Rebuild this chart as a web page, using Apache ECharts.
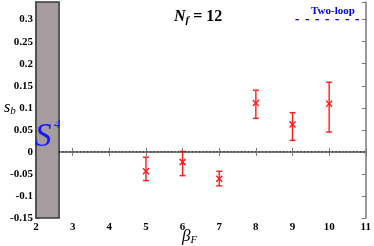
<!DOCTYPE html>
<html><head><meta charset="utf-8">
<script src="https://cdn.jsdelivr.net/npm/echarts@6/dist/echarts.min.js"></script>
<style>html,body{margin:0;padding:0;background:#fff}#c{width:374px;height:246px}</style>
</head><body><div id="c"></div>
<script>
const betaF = [5, 6, 7, 8, 9, 10];
const sb = [-0.044, -0.023, -0.061, 0.111, 0.062, 0.109];
const sbLow = [-0.065, -0.054, -0.077, 0.076, 0.026, 0.045];
const sbHigh = [-0.012, 0.001, -0.044, 0.140, 0.089, 0.158];
const bulkEnd = 2.63;
const twoLoopX = [9.08, 11];
const twoLoopY = 0.3;
const xTicks = [2, 3, 4, 5, 6, 7, 8, 9, 10, 11];
const yTicks = [-0.15, -0.1, -0.05, 0, 0.05, 0.1, 0.15, 0.2, 0.25, 0.3];

const serif = 'Liberation Serif';
const chart = echarts.init(document.getElementById('c'), null, {renderer: 'canvas'});
const axisCol = '#7a7a7a';
const red = '#ff1a1a';

const errData = betaF.map((b, i) => [b, sb[i], sbLow[i], sbHigh[i]]);

function fmtY(v) {
  const r = Math.round(v * 100) / 100;
  if (!yTicks.some(t => Math.abs(t - r) < 1e-9) || Math.abs(r - v) > 1e-6) return '';
  return String(parseFloat(r.toFixed(2)));
}

const option = {
  animation: false,
  grid: {left: 36, right: 7, top: 2, bottom: 28, containLabel: false},
  xAxis: [{
    type: 'value', min: 2, max: 11, interval: 1,
    axisLine: {show: true, lineStyle: {color: axisCol, width: 1.5}},
    axisTick: {show: true, inside: true, length: 4, lineStyle: {color: axisCol}},
    axisLabel: {color: '#000', fontFamily: serif, fontWeight: 'bold', fontSize: 11, margin: 4},
    splitLine: {show: false}
  }, {
    type: 'value', position: 'top', min: 2, max: 11, interval: 1,
    axisLine: {show: true, lineStyle: {color: axisCol, width: 1.5}},
    axisTick: {show: true, inside: true, length: 4, lineStyle: {color: axisCol}},
    axisLabel: {show: false}, splitLine: {show: false}
  }],
  yAxis: [{
    type: 'value', min: -0.15, max: 0.34, interval: 0.05,
    axisLine: {show: true, lineStyle: {color: axisCol, width: 1.5}},
    axisTick: {show: true, inside: true, length: 4, lineStyle: {color: axisCol}},
    axisLabel: {color: '#000', fontFamily: serif, fontWeight: 'bold', fontSize: 11, margin: 3, formatter: fmtY},
    splitLine: {show: false}
  }, {
    type: 'value', position: 'right', min: -0.15, max: 0.34, interval: 0.05,
    axisLine: {show: true, lineStyle: {color: axisCol, width: 1.5}},
    axisTick: {show: true, inside: true, length: 4, lineStyle: {color: axisCol}},
    axisLabel: {show: false}, splitLine: {show: false}
  }],
  series: [
    {
      type: 'line', data: [], silent: true,
      markArea: {
        silent: true,
        itemStyle: {color: '#a59d9d', borderColor: '#3a3a3a', borderWidth: 1.5},
        data: [[{xAxis: 2, yAxis: -0.15}, {xAxis: bulkEnd, yAxis: 0.34}]]
      }
    },
    {
      type: 'line', data: [[bulkEnd, 0], [11, 0]], symbol: 'none', silent: true,
      lineStyle: {color: '#000', width: 1, type: [1, 2.5]}
    },
    {
      type: 'line', data: [[twoLoopX[0], twoLoopY], [twoLoopX[1], twoLoopY]], symbol: 'none', silent: true,
      lineStyle: {color: '#0000ee', width: 1.1, type: [3.5, 6.5]}
    },
    {
      type: 'custom', data: errData, silent: true,
      renderItem: function (params, api) {
        const x = api.value(0);
        const c = api.coord([x, api.value(1)]);
        const lo = api.coord([x, api.value(2)]);
        const hi = api.coord([x, api.value(3)]);
        const cap = 3, m = 3;
        const st = {stroke: red, lineWidth: 1.4};
        return {type: 'group', children: [
          {type: 'line', shape: {x1: c[0], y1: lo[1], x2: c[0], y2: hi[1]}, style: st},
          {type: 'line', shape: {x1: c[0] - cap, y1: lo[1], x2: c[0] + cap, y2: lo[1]}, style: st},
          {type: 'line', shape: {x1: c[0] - cap, y1: hi[1], x2: c[0] + cap, y2: hi[1]}, style: st},
          {type: 'line', shape: {x1: c[0] - m, y1: c[1] - m, x2: c[0] + m, y2: c[1] + m}, style: st},
          {type: 'line', shape: {x1: c[0] - m, y1: c[1] + m, x2: c[0] + m, y2: c[1] - m}, style: st}
        ]};
      }
    }
  ],
  graphic: [
    {type: 'text', left: 174, top: 9, z: 100, style: {
      text: '{n|N}{f|f}{e| = 12}',
      rich: {
        n: {fontFamily: serif, fontStyle: 'italic', fontWeight: 'bold', fontSize: 16, fill: '#000'},
        f: {fontFamily: serif, fontStyle: 'italic', fontWeight: 'bold', fontSize: 11, fill: '#000', verticalAlign: 'bottom', padding: [6, 0, 0, 0]},
        e: {fontFamily: serif, fontWeight: 'bold', fontSize: 16, fill: '#000'}
      }}},
    {type: 'text', left: 311, top: 6, z: 100, style: {
      text: 'Two-loop', fontFamily: serif, fontWeight: 'bold', fontSize: 11, fill: '#0000ee'}},
    {type: 'text', x: 35, y: 121, z: 100, style: {
      text: 'S', fontFamily: serif, fontStyle: 'italic', fontSize: 33, fill: '#1515ff'}},
    {type: 'text', x: 54, y: 118, z: 100, style: {
      text: '4', fontFamily: serif, fontStyle: 'italic', fontSize: 13, fill: '#1515ff'}},
    {type: 'text', left: 4, top: 100, z: 100, style: {
      text: '{s|s}{b|b}',
      rich: {
        s: {fontFamily: serif, fontStyle: 'italic', fontSize: 16, fill: '#000'},
        b: {fontFamily: serif, fontStyle: 'italic', fontSize: 11, fill: '#000', padding: [6, 0, 0, 0]}
      }}},
    {type: 'text', left: 182, top: 228, z: 100, style: {
      text: '{s|β}{b|F}',
      rich: {
        s: {fontFamily: serif, fontStyle: 'italic', fontSize: 17, fill: '#000'},
        b: {fontFamily: serif, fontStyle: 'italic', fontSize: 11, fill: '#000', padding: [7, 0, 0, 0]}
      }}}
  ]
};
chart.setOption(option);
</script></body></html>
